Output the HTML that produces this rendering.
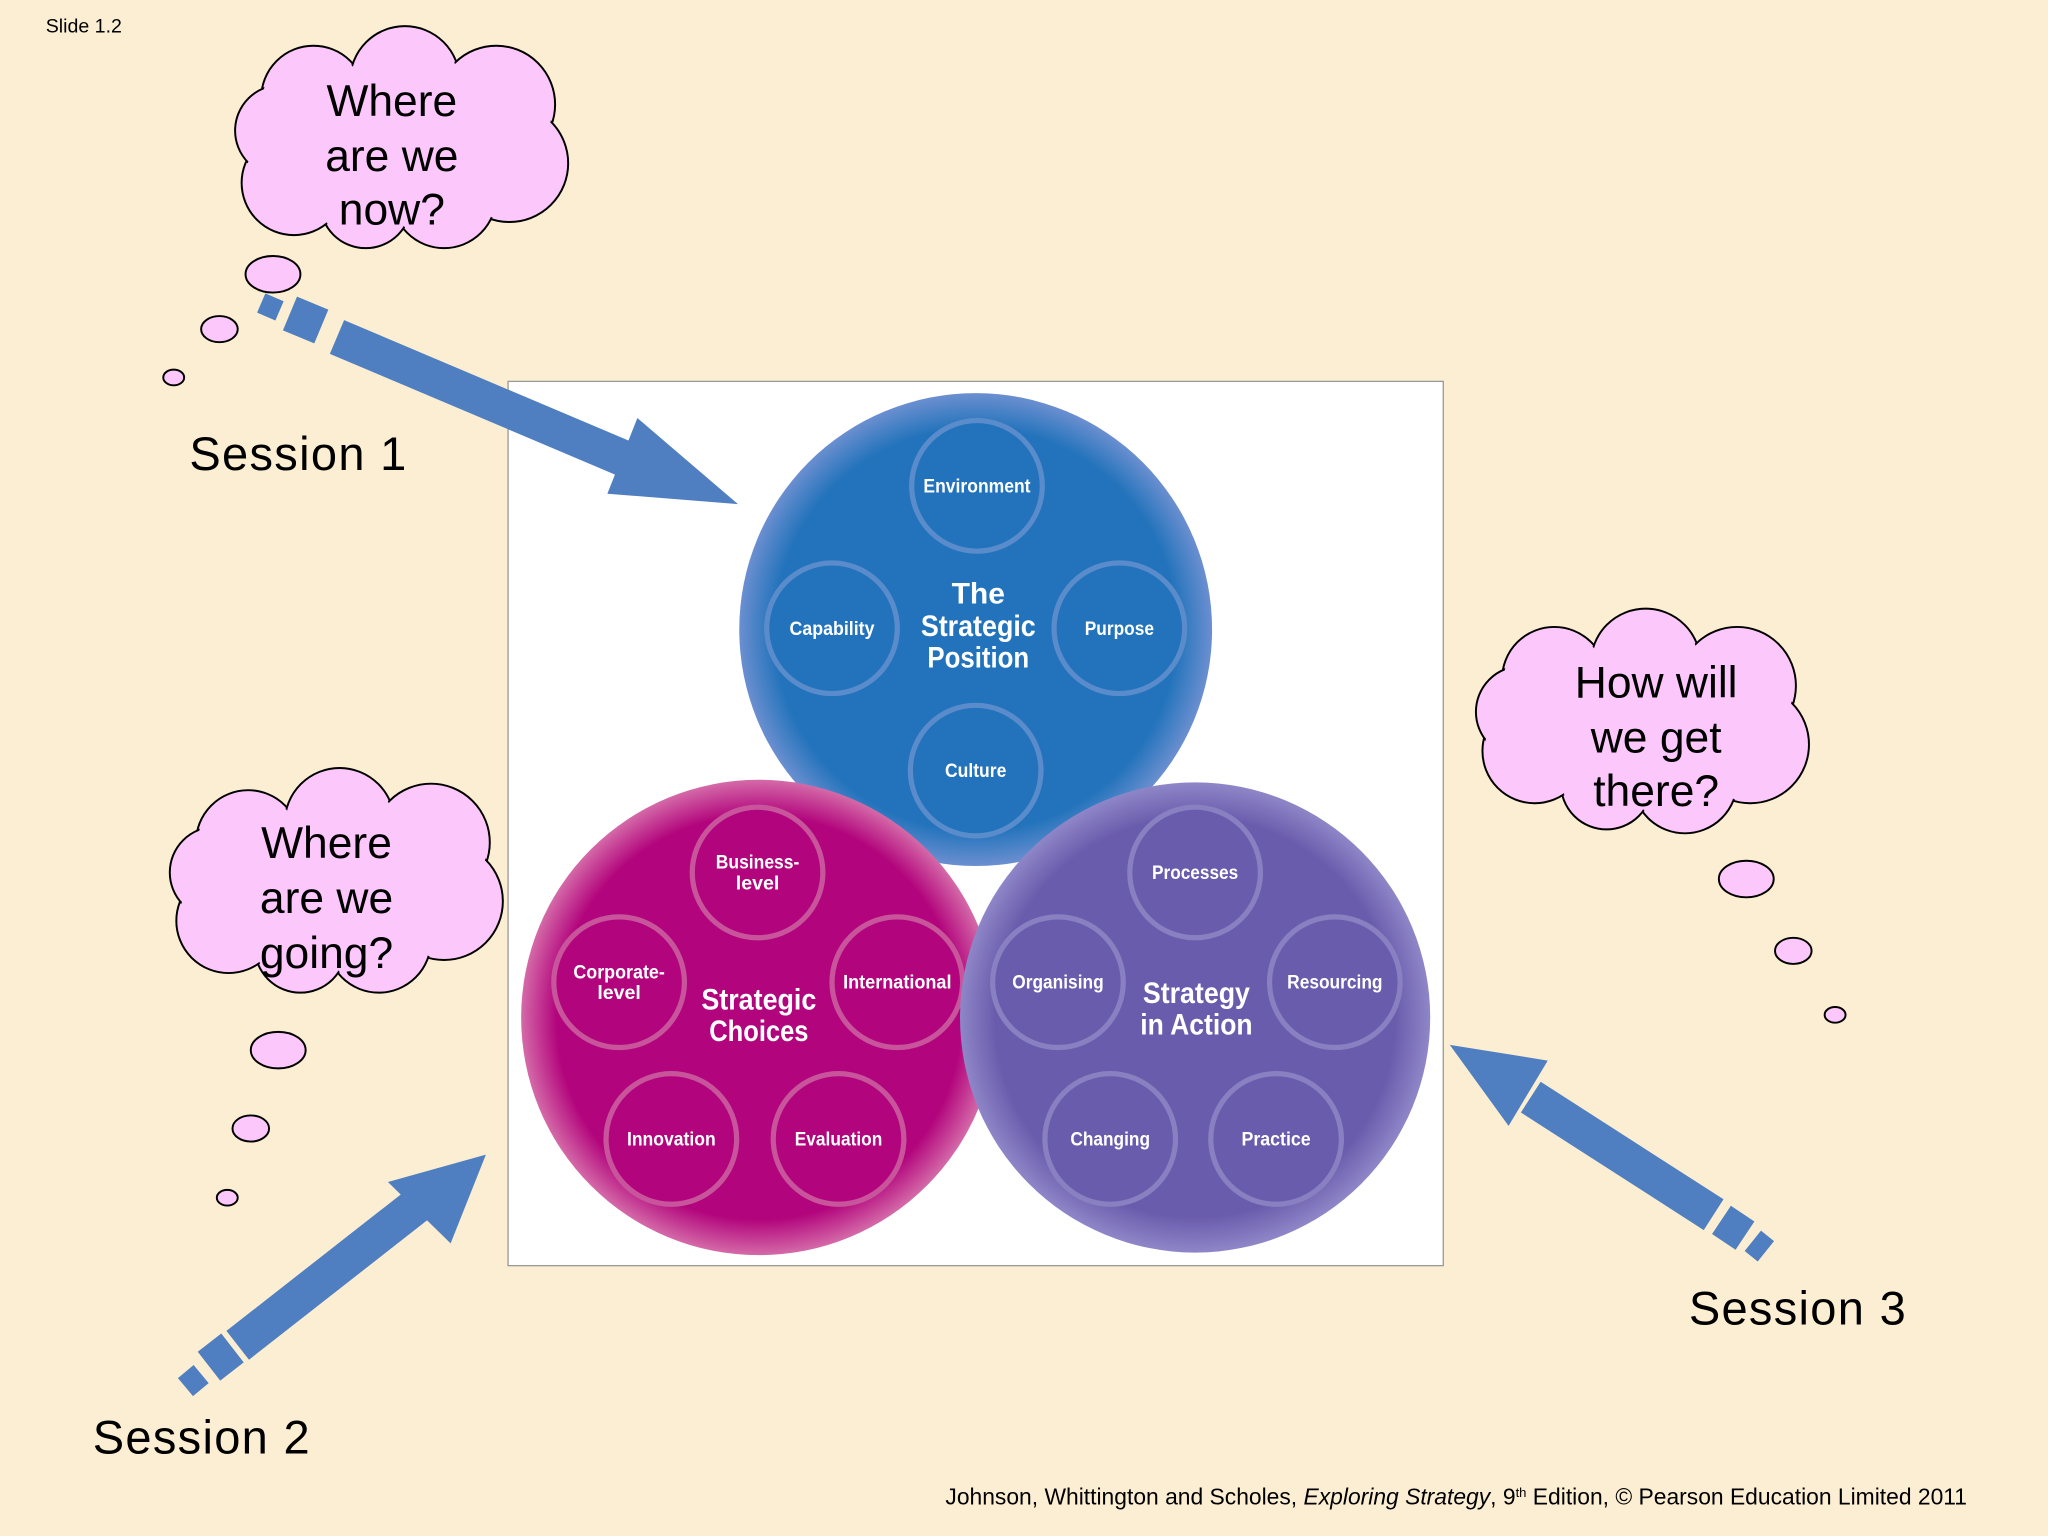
<!DOCTYPE html>
<html><head><meta charset="utf-8"><style>
html,body{margin:0;padding:0;background:#fbeed2;}
svg{display:block;}
text{font-family:"Liberation Sans",sans-serif;}
.w{font-family:"Liberation Sans",sans-serif;font-weight:bold;fill:#fff;}
</style></head><body>
<svg width="2048" height="1536" viewBox="0 0 1568 1176" xmlns="http://www.w3.org/2000/svg">
<defs>
<radialGradient id="gb" cx="50%" cy="50%" r="50%"><stop offset="0.85" stop-color="#2273bb"/><stop offset="1" stop-color="#6b8fd0"/></radialGradient>
<radialGradient id="gm" cx="50%" cy="50%" r="50%"><stop offset="0.85" stop-color="#b2047c"/><stop offset="1" stop-color="#d46aa8"/></radialGradient>
<radialGradient id="gp" cx="50%" cy="50%" r="50%"><stop offset="0.85" stop-color="#6a5cac"/><stop offset="1" stop-color="#8f86c8"/></radialGradient>
</defs>
<rect width="1568" height="1176" fill="#fbeed2"/>
<text x="35" y="25" font-size="15" fill="#000">Slide 1.2</text>
<rect x="389" y="292" width="716" height="677" fill="#fff" stroke="#999" stroke-width="1"/>

<circle cx="747" cy="482" r="181" fill="url(#gb)"/>
<g fill="#2273bb" stroke="#5a8ccc" stroke-width="4">
<circle cx="748" cy="372" r="50"/><circle cx="637" cy="481" r="50"/><circle cx="857" cy="481" r="50"/><circle cx="747" cy="590" r="50"/>
</g>
<circle cx="581" cy="779" r="182" fill="url(#gm)"/>
<g fill="#b2047c" stroke="#c8559c" stroke-width="4">
<circle cx="580" cy="668" r="50"/><circle cx="474" cy="752" r="50"/><circle cx="687" cy="752" r="50"/><circle cx="514" cy="872" r="50"/><circle cx="642" cy="872" r="50"/>
</g>
<circle cx="915" cy="779" r="180" fill="url(#gp)"/>
<g fill="#6a5cac" stroke="#8880c0" stroke-width="4">
<circle cx="915" cy="668" r="50"/><circle cx="810" cy="752" r="50"/><circle cx="1022" cy="752" r="50"/><circle cx="850" cy="872" r="50"/><circle cx="977" cy="872" r="50"/>
</g>
<g class="w" font-size="15" text-anchor="middle">
<text x="748" y="377" textLength="82" lengthAdjust="spacingAndGlyphs">Environment</text>
<text x="637" y="486" textLength="65" lengthAdjust="spacingAndGlyphs">Capability</text>
<text x="857" y="486" textLength="53" lengthAdjust="spacingAndGlyphs">Purpose</text>
<text x="747" y="595" textLength="47" lengthAdjust="spacingAndGlyphs">Culture</text>
<text x="580" y="665" textLength="64" lengthAdjust="spacingAndGlyphs">Business-</text><text x="580" y="681">level</text>
<text x="474" y="749" textLength="70" lengthAdjust="spacingAndGlyphs">Corporate-</text><text x="474" y="765">level</text>
<text x="687" y="757" textLength="83" lengthAdjust="spacingAndGlyphs">International</text>
<text x="514" y="877" textLength="68" lengthAdjust="spacingAndGlyphs">Innovation</text>
<text x="642" y="877" textLength="67" lengthAdjust="spacingAndGlyphs">Evaluation</text>
<text x="915" y="673" textLength="66" lengthAdjust="spacingAndGlyphs">Processes</text>
<text x="810" y="757" textLength="70" lengthAdjust="spacingAndGlyphs">Organising</text>
<text x="1022" y="757" textLength="73" lengthAdjust="spacingAndGlyphs">Resourcing</text>
<text x="850" y="877" textLength="61" lengthAdjust="spacingAndGlyphs">Changing</text>
<text x="977" y="877" textLength="53" lengthAdjust="spacingAndGlyphs">Practice</text>
</g>
<g class="w" font-size="23" text-anchor="middle">
<text x="749" y="462">The</text><text x="749" y="487" textLength="88" lengthAdjust="spacingAndGlyphs">Strategic</text><text x="749" y="511" textLength="78" lengthAdjust="spacingAndGlyphs">Position</text>
<text x="581" y="773" textLength="88" lengthAdjust="spacingAndGlyphs">Strategic</text><text x="581" y="797" textLength="76" lengthAdjust="spacingAndGlyphs">Choices</text>
<text x="916" y="768" textLength="82" lengthAdjust="spacingAndGlyphs">Strategy</text><text x="916" y="792" textLength="86" lengthAdjust="spacingAndGlyphs">in Action</text>
</g>

<g fill="#4f7fc0" stroke="none">
<line x1="258" y1="258" x2="480" y2="352" stroke="#4f7fc0" stroke-width="28"/>
<polygon points="565,386 488,320 465,378"/>
<line x1="222" y1="240" x2="246" y2="250" stroke="#4f7fc0" stroke-width="28"/>
<line x1="200" y1="232" x2="214" y2="238" stroke="#4f7fc0" stroke-width="16"/>

<line x1="182" y1="1030" x2="320" y2="922" stroke="#4f7fc0" stroke-width="28"/>
<polygon points="372,884 297,905 345,952"/>
<line x1="160" y1="1046" x2="178" y2="1032" stroke="#4f7fc0" stroke-width="28"/>
<line x1="142" y1="1062" x2="154" y2="1052" stroke="#4f7fc0" stroke-width="18"/>

<line x1="1172" y1="840" x2="1312" y2="930" stroke="#4f7fc0" stroke-width="28"/>
<polygon points="1110,800 1185,812 1155,862"/>
<line x1="1318" y1="934" x2="1336" y2="946" stroke="#4f7fc0" stroke-width="26"/>
<line x1="1342" y1="950" x2="1352" y2="958" stroke="#4f7fc0" stroke-width="20"/>
</g>

<g stroke="#000" stroke-width="1.5" fill="#fcc8fc">
<g>
<circle cx="240" cy="75" r="40"/><circle cx="310" cy="62" r="42"/><circle cx="380" cy="80" r="45"/><circle cx="390" cy="125" r="45"/><circle cx="340" cy="150" r="40"/><circle cx="280" cy="155" r="35"/><circle cx="225" cy="140" r="40"/><circle cx="215" cy="100" r="35"/>
</g>
<g stroke="none"><circle cx="240" cy="75" r="38.5"/><circle cx="310" cy="62" r="40.5"/><circle cx="380" cy="80" r="43.5"/><circle cx="390" cy="125" r="43.5"/><circle cx="340" cy="150" r="38.5"/><circle cx="280" cy="155" r="33.5"/><circle cx="225" cy="140" r="38.5"/><circle cx="215" cy="100" r="33.5"/><circle cx="300" cy="110" r="60"/></g>
<ellipse cx="209" cy="210" rx="21" ry="14"/><ellipse cx="168" cy="252" rx="14" ry="10"/><ellipse cx="133" cy="289" rx="8" ry="6"/>

<g>
<circle cx="190" cy="645" r="40"/><circle cx="260" cy="630" r="42"/><circle cx="330" cy="645" r="45"/><circle cx="340" cy="690" r="45"/><circle cx="290" cy="720" r="40"/><circle cx="230" cy="725" r="35"/><circle cx="175" cy="705" r="40"/><circle cx="165" cy="668" r="35"/>
</g>
<g stroke="none"><circle cx="190" cy="645" r="38.5"/><circle cx="260" cy="630" r="40.5"/><circle cx="330" cy="645" r="43.5"/><circle cx="340" cy="690" r="43.5"/><circle cx="290" cy="720" r="38.5"/><circle cx="230" cy="725" r="33.5"/><circle cx="175" cy="705" r="38.5"/><circle cx="165" cy="668" r="33.5"/><circle cx="255" cy="680" r="60"/></g>
<ellipse cx="213" cy="804" rx="21" ry="14"/><ellipse cx="192" cy="864" rx="14" ry="10"/><ellipse cx="174" cy="917" rx="8" ry="6"/>

<g>
<circle cx="1190" cy="520" r="40"/><circle cx="1260" cy="508" r="42"/><circle cx="1330" cy="525" r="45"/><circle cx="1340" cy="570" r="45"/><circle cx="1290" cy="598" r="40"/><circle cx="1230" cy="600" r="35"/><circle cx="1175" cy="575" r="40"/><circle cx="1165" cy="545" r="35"/>
</g>
<g stroke="none"><circle cx="1190" cy="520" r="38.5"/><circle cx="1260" cy="508" r="40.5"/><circle cx="1330" cy="525" r="43.5"/><circle cx="1340" cy="570" r="43.5"/><circle cx="1290" cy="598" r="38.5"/><circle cx="1230" cy="600" r="33.5"/><circle cx="1175" cy="575" r="38.5"/><circle cx="1165" cy="545" r="33.5"/><circle cx="1260" cy="555" r="60"/></g>
<ellipse cx="1337" cy="673" rx="21" ry="14"/><ellipse cx="1373" cy="728" rx="14" ry="10"/><ellipse cx="1405" cy="777" rx="8" ry="6"/>
</g>
<g font-size="34" fill="#000" text-anchor="middle">
<text x="300" y="89">Where</text><text x="300" y="131">are we</text><text x="300" y="172">now?</text>
<text x="250" y="657">Where</text><text x="250" y="699">are we</text><text x="250" y="741">going?</text>
<text x="1268" y="534">How will</text><text x="1268" y="576">we get</text><text x="1268" y="617">there?</text>
</g>
<g font-size="36" fill="#000" letter-spacing="1">
<text x="145" y="360">Session 1</text>
<text x="71" y="1113">Session 2</text>
<text x="1293" y="1014">Session 3</text>
</g>
<text x="1506" y="1152" font-size="17.5" text-anchor="end" fill="#000">Johnson, Whittington and Scholes, <tspan font-style="italic">Exploring Strategy</tspan>, 9<tspan font-size="10" dy="-6">th</tspan><tspan dy="6"> Edition, © Pearson Education Limited 2011</tspan></text>
</svg>
</body></html>
